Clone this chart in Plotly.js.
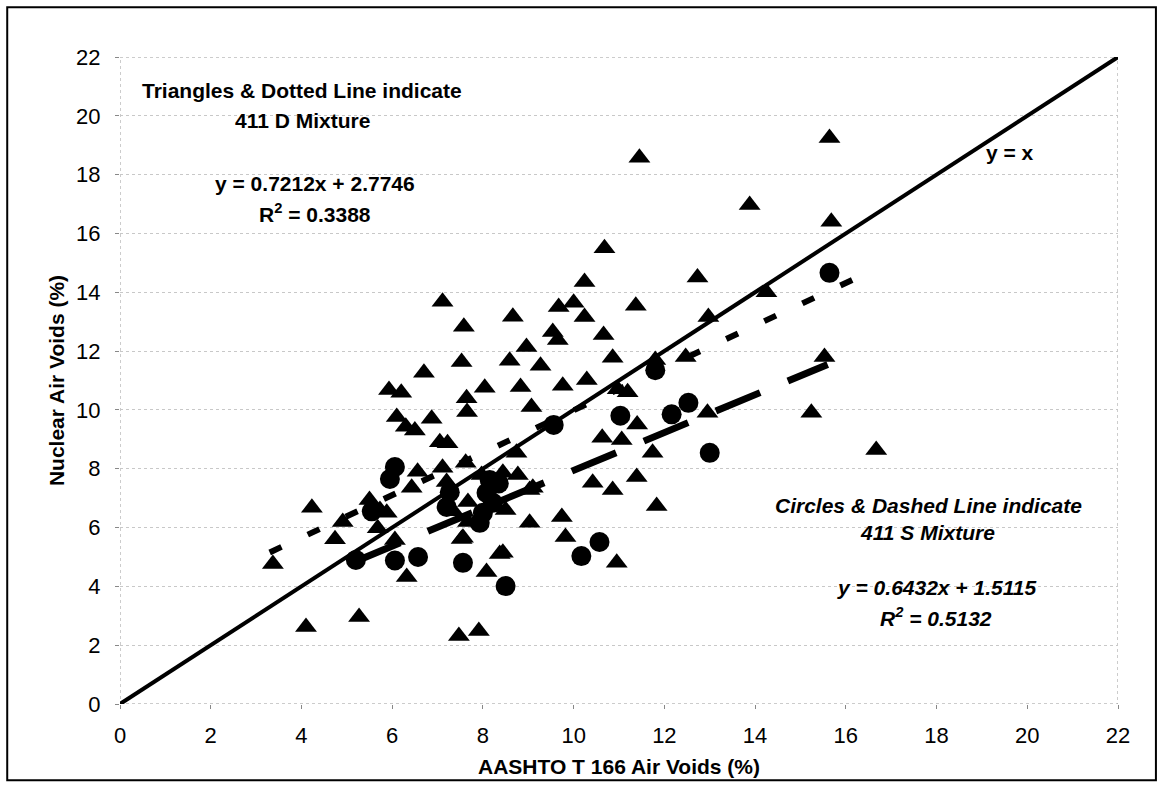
<!DOCTYPE html>
<html>
<head>
<meta charset="utf-8">
<script src="https://cdn.plot.ly/plotly-3.0.1.min.js"></script>
<style>html,body{margin:0;padding:0;background:#fff;}#chart{width:1163px;height:794px;}</style>
</head>
<body>
<div id="chart"></div>
<script>
// 411 D Mixture (triangles)
const d411X = [11.45,13.88,10.68,15.64,15.68,14.25,15.53,15.24,16.67,
  10.24,12.73,7.11,9.67,10.0,11.37,10.24,12.97,8.66,7.58,9.54,9.65,10.66,8.96,7.53,8.59,9.27,10.86,11.8,12.47,6.7,5.93,6.2,8.04,8.83,9.76,10.29,10.97,11.19,7.64,7.65,9.07,6.1,6.3,6.5,6.87,7.05,7.22,11.4,12.95,10.63,11.06,11.74,10.42,10.86,11.39,11.83,8.74,7.62,9.03,9.74,9.1,9.82,10.95,8.44,6.32,7.53,8.08,8.37,7.47,7.91,3.37,4.1,5.27,4.74,4.23,4.91,5.5,5.73,5.68,6.06,6.56,6.43,5.88,7.11,7.2,7.67,7.97,8.44,8.77,9.03,7.67,7.56,7.35,8.5];
const d411Y = [18.57,16.97,15.5,19.25,16.4,14.0,11.8,9.9,8.64,
  14.35,14.5,13.68,13.5,13.64,13.54,13.16,13.16,13.17,12.83,12.65,12.38,12.55,12.14,11.63,11.67,11.5,11.77,11.7,11.8,11.26,10.68,10.58,10.75,10.78,10.82,11.02,10.7,10.6,10.4,9.93,10.1,9.76,9.43,9.3,9.7,8.9,8.87,9.5,9.9,9.05,8.98,8.54,7.52,7.28,7.72,6.73,8.54,8.2,6.16,6.36,7.35,5.68,4.8,5.14,4.32,5.61,4.49,5.1,2.31,2.48,4.76,2.62,2.96,5.6,6.67,6.19,6.94,6.6,5.98,5.58,7.9,7.35,6.5,8.03,7.55,6.87,7.79,7.86,7.79,7.28,6.19,5.65,6.55,6.6];
// 411 S Mixture (circles)
const s411X = [15.64,11.8,12.53,12.16,11.03,9.56,13.0,10.57,10.17,8.5,7.56,6.57,6.06,5.2,6.06,5.95,5.55,7.2,7.27,8.08,8.22,8.0,7.93,8.15,8.35];
const s411Y = [14.66,11.35,10.24,9.85,9.8,9.49,8.54,5.51,5.03,4.01,4.8,5.0,4.88,4.9,8.06,7.65,6.55,6.7,7.2,7.18,6.84,6.5,6.16,7.62,7.5];
// Trend lines (from the equations on the chart)
const dSlope = 0.7212, dIntercept = 2.7746, dRange = [3.3, 16.7];
const sSlope = 0.6432, sIntercept = 1.5115, sRange = [5.2, 15.6];
const identityX = [0, 22];
const tickVals = [0,2,4,6,8,10,12,14,16,18,20,22];

const font = "Liberation Sans, Arial, sans-serif";
const traces = [
  {x: d411X, y: d411Y, mode: 'markers', type: 'scatter', name: '411 D',
   marker: {symbol: 'triangle-up', size: 19, color: '#000'}},
  {x: s411X, y: s411Y, mode: 'markers', type: 'scatter', name: '411 S',
   marker: {symbol: 'circle', size: 20, color: '#000'}},
  {x: identityX, y: identityX, mode: 'lines', type: 'scatter', name: 'y = x',
   line: {color: '#000', width: 4}},
  {x: dRange, y: dRange.map(v => dSlope * v + dIntercept), mode: 'lines', type: 'scatter',
   line: {color: '#000', width: 6, dash: '13px,29px'}},
  {x: sRange, y: sRange.map(v => sSlope * v + sIntercept), mode: 'lines', type: 'scatter',
   line: {color: '#000', width: 7, dash: '48px,30px'}}
];

function ann(px, py, text) {
  return {xref: 'paper', yref: 'paper', x: (px - 120) / 998, y: (704 - py) / 647,
    xanchor: 'center', yanchor: 'middle', text: text, showarrow: false,
    font: {size: 21, family: font, color: '#000'}};
}

const layout = {
  width: 1163, height: 794,
  margin: {l: 120, r: 45, t: 57, b: 90},
  showlegend: false,
  paper_bgcolor: '#fff', plot_bgcolor: '#fff',
  font: {family: font, color: '#000', size: 20},
  xaxis: {range: [0, 22], tickvals: tickVals, showgrid: false, zeroline: false,
    ticks: 'outside', ticklen: 4, tickcolor: '#888', showline: false,
    ticklabelstandoff: 8,
    tickfont: {size: 22, family: font, color: '#000'},
    title: {text: '<b>AASHTO T 166 Air Voids (%)</b>', font: {size: 21, family: font, color: '#000'}, standoff: 11}},
  yaxis: {range: [0, 22], tickvals: tickVals, showgrid: true, gridcolor: '#c8c8c8', griddash: 'dot', gridwidth: 1,
    zeroline: false, ticks: 'outside', ticklen: 4, tickcolor: '#888', showline: false,
    ticklabelstandoff: 10,
    tickfont: {size: 22, family: font, color: '#000'},
    title: {text: '<b>Nuclear Air Voids (%)</b>', font: {size: 21, family: font, color: '#000'}, standoff: 5}},
  shapes: [
    {type: 'rect', xref: 'x', yref: 'y', x0: 0, x1: 22, y0: 0, y1: 22,
     line: {color: '#999', width: 1, dash: 'dot'}, layer: 'below'},
    {type: 'rect', xref: 'paper', yref: 'paper', x0: -0.113, x1: 1.038, y0: -0.118, y1: 1.077,
     line: {color: '#000', width: 2}}
  ],
  annotations: [
    ann(302, 90, '<b>Triangles &amp; Dotted Line indicate</b>'),
    ann(302, 120, '<b>411 D Mixture</b>'),
    ann(315, 183, '<b>y = 0.7212x + 2.7746</b>'),
    ann(315, 213, '<b>R<sup>2</sup> = 0.3388</b>'),
    ann(1010, 152, '<b>y = x</b>'),
    ann(928, 505, '<b><i>Circles &amp; Dashed Line indicate</i></b>'),
    ann(927, 532, '<b><i>411 S Mixture</i></b>'),
    ann(936, 587, '<b><i>y = 0.6432x + 1.5115</i></b>'),
    ann(936, 617, '<b><i>R<sup>2</sup> = 0.5132</i></b>')
  ]
};

Plotly.newPlot('chart', traces, layout, {displayModeBar: false, staticPlot: true});
</script>
</body>
</html>
